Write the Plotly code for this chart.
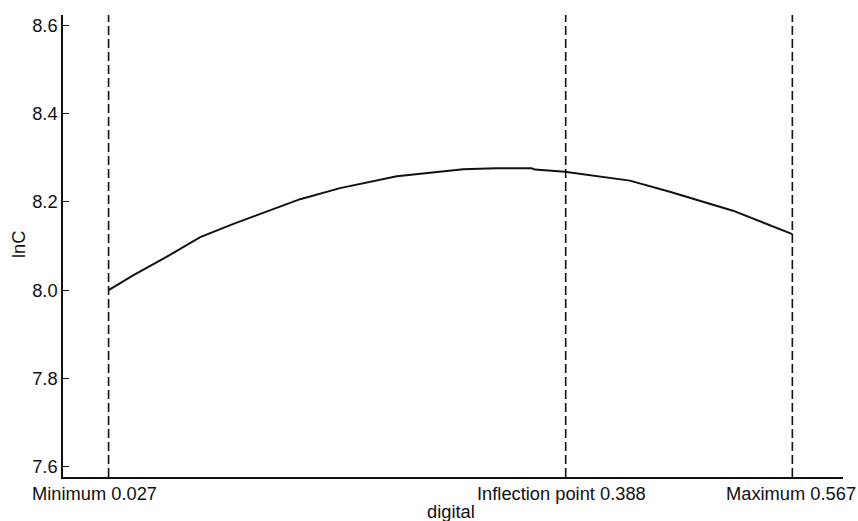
import plotly.graph_objects as go

# Curve
digital = [0.027, 0.0467, 0.0731, 0.0994, 0.1256, 0.1520, 0.1783, 0.2098, 0.2282,
           0.2546, 0.2808, 0.3071, 0.3334, 0.3611, 0.3637, 0.3873, 0.4386, 0.4702,
           0.5201, 0.567]
lnC = [8.000, 8.034, 8.076, 8.120, 8.150, 8.178, 8.206, 8.231, 8.242,
       8.258, 8.266, 8.274, 8.276, 8.276, 8.273, 8.268, 8.248, 8.223,
       8.180, 8.127]

# Reference lines
mark_x = [0.027, 0.388, 0.567]
mark_labels = ["Minimum 0.027", "Inflection point 0.388", "Maximum 0.567"]

y_ticks = [7.6, 7.8, 8.0, 8.2, 8.4, 8.6]
y_ticktext = ["7.6", "7.8", "8.0", "8.2", "8.4", "8.6"]

FONT = "Liberation Sans, Arial, sans-serif"
FS = 18.3

fig = go.Figure()
fig.add_trace(go.Scatter(x=digital, y=lnC, mode="lines",
                         line=dict(color="#111111", width=2),
                         showlegend=False, hoverinfo="skip"))

for xv in mark_x:
    fig.add_shape(type="line", xref="x", yref="paper", x0=xv, x1=xv, y0=0, y1=1,
                  line=dict(color="#111111", width=1.6, dash="9px,4px"))

label_shift = [-14, -4, -1]
for xv, txt, sh in zip(mark_x, mark_labels, label_shift):
    fig.add_annotation(x=xv, y=0, xref="x", yref="paper", text=txt, showarrow=False,
                       xanchor="center", yanchor="top", yshift=-4, xshift=sh,
                       font=dict(family=FONT, size=FS, color="#111111"))

fig.add_annotation(x=0.5, y=0, xref="paper", yref="paper", text="digital", showarrow=False,
                   xanchor="center", yanchor="middle", yshift=-34, xshift=-2,
                   font=dict(family=FONT, size=FS, color="#111111"))
fig.add_annotation(x=0, y=0.502, xref="paper", yref="paper", text="lnC", showarrow=False,
                   xanchor="center", yanchor="middle", xshift=-45, textangle=-90,
                   font=dict(family=FONT, size=FS, color="#111111"))

fig.update_layout(
    width=858, height=521,
    margin=dict(l=63, r=15, t=15, b=44),
    paper_bgcolor="white", plot_bgcolor="white",
    font=dict(family=FONT, size=FS, color="#111111"),
    xaxis=dict(range=[-0.009, 0.607], showgrid=False, zeroline=False,
               showline=True, linecolor="#111111", linewidth=1.5,
               showticklabels=False, ticks="", fixedrange=True),
    yaxis=dict(range=[7.577, 8.623], showgrid=False, zeroline=False,
               showline=True, linecolor="#111111", linewidth=1.5,
               tickvals=y_ticks, ticktext=y_ticktext, ticks="inside", ticklen=6,
               tickwidth=1.3, tickcolor="#111111",
               tickfont=dict(family=FONT, size=FS, color="#111111")),
)

fig.write_html("out.html", config={"displayModeBar": False},
               post_script="document.body.style.margin='0';document.body.style.overflow='hidden';")
